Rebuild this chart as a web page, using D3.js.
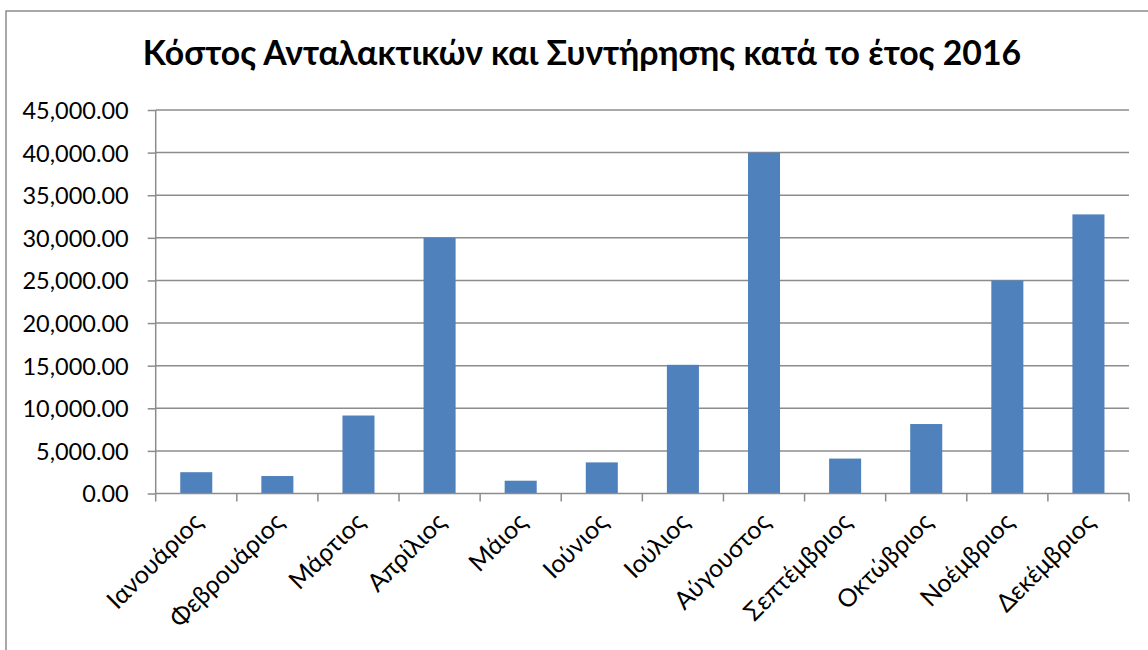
<!DOCTYPE html>
<html>
<head>
<meta charset="utf-8">
<script src="https://cdn.jsdelivr.net/npm/d3@7"></script>
<style>
  body { margin: 0; background: #fff; }
  svg text { font-family: Lato, "Open Sans", sans-serif; fill: #000; }
</style>
</head>
<body>
<svg id="chart" width="1148" height="650"></svg>
<script>
// chart data
var months = ["Ιανουάριος", "Φεβρουάριος", "Μάρτιος", "Απρίλιος", "Μάιος", "Ιούνιος",
              "Ιούλιος", "Αύγουστος", "Σεπτέμβριος", "Οκτώβριος", "Νοέμβριος", "Δεκέμβριος"];
var costs = [2500, 2050, 9150, 30000, 1500, 3650, 15100, 40000, 4100, 8150, 25000, 32750];
var yTicks = [0, 5000, 10000, 15000, 20000, 25000, 30000, 35000, 40000, 45000];
var title = "Κόστος Ανταλακτικών και Συντήρησης κατά το έτος 2016";

var svg = d3.select("#chart");
var plotL = 155.7, plotR = 1129, plotT = 110, plotB = 493.5;

// outer frame
svg.append("rect")
    .attr("x", 6).attr("y", 11)
    .attr("width", 1160).attr("height", 660)
    .attr("fill", "none").attr("stroke", "#8c8c8c").attr("stroke-width", 1.5);

svg.append("text")
    .attr("x", 582).attr("y", 65)
    .attr("text-anchor", "middle")
    .style("font-size", "33.8px").style("font-weight", "bold")
    .text(title);

var y = d3.scaleLinear().domain([0, 45000]).range([plotB, plotT]);
var xCat = d3.scaleBand().domain(months).range([plotL, plotR]);
var xBar = d3.scaleBand().domain(months).range([plotL, plotR])
    .paddingInner(0.605).paddingOuter(0.3025);

// gridlines
svg.append("g").selectAll("line")
    .data(yTicks.filter(function(d){ return d > 0; }))
    .enter().append("line")
    .attr("x1", plotL).attr("x2", plotR)
    .attr("y1", function(d){ return y(d); })
    .attr("y2", function(d){ return y(d); })
    .attr("stroke", "#8c8c8c").attr("stroke-width", 1.5);

// y axis
var fmt = d3.format(",.2f");
var yAxis = svg.append("g")
    .attr("transform", "translate(" + plotL + ",0)")
    .call(d3.axisLeft(y).tickValues(yTicks).tickSize(8).tickPadding(19).tickFormat(fmt));
yAxis.selectAll("line, path").attr("stroke", "#8c8c8c").attr("stroke-width", 1.5);
yAxis.select(".domain").attr("d", "M0," + plotT + "V" + plotB);
yAxis.selectAll("text").style("font-size", "23.5px").attr("dy", "0.36em");

// bars
svg.append("g").selectAll("rect")
    .data(costs)
    .enter().append("rect")
    .attr("x", function(d, i){ return xBar(months[i]); })
    .attr("y", function(d){ return y(d); })
    .attr("width", xBar.bandwidth())
    .attr("height", function(d){ return y(0) - y(d); })
    .attr("fill", "#4f81bd");

// x axis with ticks between categories
var xg = svg.append("g");
xg.append("line")
    .attr("x1", plotL).attr("x2", plotR)
    .attr("y1", plotB).attr("y2", plotB)
    .attr("stroke", "#8c8c8c").attr("stroke-width", 1.5);
var edges = months.map(function(m){ return xCat(m); }).concat([plotR]);
xg.selectAll(".xt")
    .data(edges)
    .enter().append("line")
    .attr("class", "xt")
    .attr("x1", function(d){ return d; }).attr("x2", function(d){ return d; })
    .attr("y1", plotB).attr("y2", plotB + 8)
    .attr("stroke", "#8c8c8c").attr("stroke-width", 1.5);

xg.selectAll(".xl")
    .data(months)
    .enter().append("text")
    .attr("class", "xl")
    .attr("text-anchor", "end")
    .style("font-size", "25px")
    .attr("transform", function(d){
        var cx = xCat(d) + xCat.bandwidth() / 2 + 8;
        return "translate(" + cx + "," + (plotB + 30) + ") rotate(-45)";
    })
    .text(function(d){ return d; });
</script>
</body>
</html>
